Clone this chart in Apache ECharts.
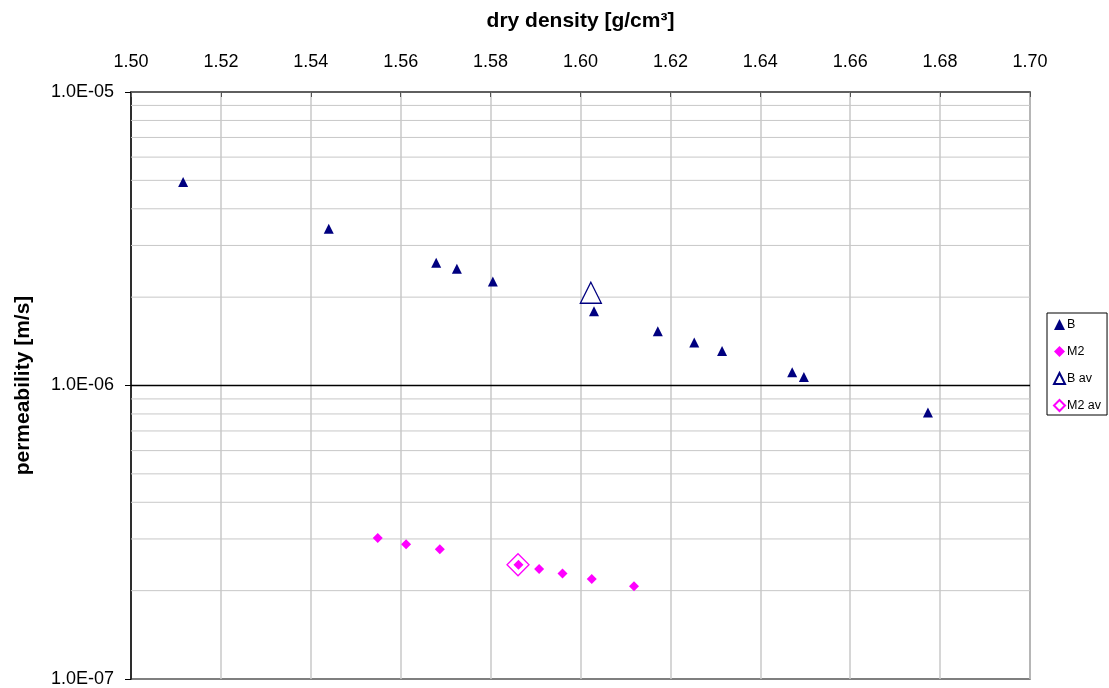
<!DOCTYPE html>
<html>
<head>
<meta charset="utf-8">
<title>Permeability vs dry density</title>
<script src="https://cdn.jsdelivr.net/npm/echarts@6/dist/echarts.min.js"></script>
<style>
  html, body { margin: 0; padding: 0; background: #fff; }
  #chart { width: 1109px; height: 688px; }
</style>
</head>
<body>
<div id="chart"></div>
<script>
// Measured samples: dry density [g/cm3] and permeability [m/s]
const bDensity = [1.5116, 1.5440, 1.5679, 1.5725, 1.5805, 1.6030, 1.6172, 1.6253, 1.6315, 1.6471, 1.6497, 1.6773];
const bPerm    = [4.94e-6, 3.42e-6, 2.62e-6, 2.50e-6, 2.26e-6, 1.79e-6, 1.53e-6, 1.40e-6, 1.31e-6, 1.11e-6, 1.07e-6, 8.09e-7];
const m2Density = [1.5549, 1.5612, 1.5687, 1.5862, 1.5908, 1.5960, 1.6025, 1.6119];
const m2Perm    = [3.02e-7, 2.88e-7, 2.77e-7, 2.45e-7, 2.37e-7, 2.29e-7, 2.19e-7, 2.07e-7];

// Averages of each material
const bAvDensity = [1.6023];
const bAvPerm = [2.07e-6];
const m2AvDensity = [1.5861];
const m2AvPerm = [2.45e-7];

// Axis ranges and gridline positions
const xMin = 1.50, xMax = 1.70, xStep = 0.02;
const yMin = 1e-7, yMax = 1e-5;
const decades = [1e-7, 1e-6];
const minorFactors = [2, 3, 4, 5, 6, 7, 8, 9];
const axisCrossing = 1e-6;

const pairs = (xs, ys) => xs.map((x, i) => [x, ys[i]]);

const font = "'Liberation Sans', Arial, sans-serif";
const fmtExp = v => {
  const e = Math.round(Math.log10(v));
  const m = v / Math.pow(10, e);
  const sign = e < 0 ? '-' : '+';
  const a = Math.abs(e);
  return m.toFixed(1) + 'E' + sign + (a < 10 ? '0' + a : a);
};

// Horizontal reference lines spanning the plot at a given permeability
const hLine = (v, color, width, z) => ({
  type: 'line', silent: true, symbol: 'none', z: z, animation: false,
  lineStyle: { color: color, width: width },
  data: [[xMin, v], [xMax, v]],
  tooltip: { show: false }
});

const gridSeries = [];
decades.forEach(d => minorFactors.forEach(f => gridSeries.push(hLine(d * f, '#c8c8c8', 1, 1))));
gridSeries.push(hLine(axisCrossing, '#000', 1.5, 2));

const chart = echarts.init(document.getElementById('chart'), null, { renderer: 'canvas' });
chart.setOption({
  animation: false,
  backgroundColor: '#fff',
  textStyle: { fontFamily: font },
  grid: {
    left: 131, right: 79, top: 92, bottom: 9,
    show: true, borderColor: '#555', borderWidth: 1.5, backgroundColor: 'transparent'
  },
  xAxis: {
    type: 'value', position: 'top',
    min: xMin, max: xMax, interval: xStep,
    name: 'dry density [g/cm³]', nameLocation: 'middle', nameGap: 60,
    nameTextStyle: { fontSize: 21, fontWeight: 'bold', color: '#000', fontFamily: font },
    axisLine: { show: true, lineStyle: { color: '#555', width: 1.5 } },
    axisTick: { show: true, inside: true, length: 5, lineStyle: { color: '#555' } },
    axisLabel: { margin: 21, fontSize: 18, color: '#000', fontFamily: font, formatter: v => v.toFixed(2) },
    splitLine: { show: true, lineStyle: { color: '#c8c8c8', width: 1.5 } }
  },
  yAxis: {
    type: 'log', logBase: 10, min: yMin, max: yMax,
    name: 'permeability [m/s]', nameLocation: 'middle', nameGap: 97, nameRotate: 90,
    nameTextStyle: { fontSize: 21, fontWeight: 'bold', color: '#000', fontFamily: font },
    axisLine: { show: true, lineStyle: { color: '#000', width: 1.5 } },
    axisTick: { show: true, inside: false, length: 6, lineStyle: { color: '#000' } },
    axisLabel: { margin: 17, fontSize: 18, color: '#000', fontFamily: font, formatter: fmtExp },
    splitLine: { show: false }
  },
  legend: {
    orient: 'vertical', left: 1047, top: 313,
    padding: [5, 6, 3, 6], itemGap: 14, itemWidth: 11, itemHeight: 11,
    borderColor: '#000', borderWidth: 1, backgroundColor: '#fff',
    textStyle: { fontSize: 12.5, color: '#000', fontFamily: font, padding: [0, 0, 0, -3] },
    data: ['B', 'M2', 'B av', 'M2 av']
  },
  series: gridSeries.concat([
    {
      name: 'B', type: 'scatter', symbol: 'triangle', symbolSize: 10,
      itemStyle: { color: '#000080', opacity: 1 },
      data: pairs(bDensity, bPerm), z: 3
    },
    {
      name: 'M2', type: 'scatter', symbol: 'diamond', symbolSize: 10,
      itemStyle: { color: '#ff00ff', opacity: 1 },
      data: pairs(m2Density, m2Perm), z: 4
    },
    {
      name: 'B av', type: 'scatter', symbol: 'triangle', symbolSize: 21,
      itemStyle: { color: '#fff', borderColor: '#000080', borderWidth: 1.3, opacity: 1 },
      data: pairs(bAvDensity, bAvPerm), z: 3
    },
    {
      name: 'M2 av', type: 'scatter', symbol: 'diamond', symbolSize: 22,
      itemStyle: { color: 'rgba(255,255,255,0)', borderColor: '#ff00ff', borderWidth: 1.3, opacity: 1 },
      data: pairs(m2AvDensity, m2AvPerm), z: 3
    }
  ])
});
</script>
</body>
</html>
